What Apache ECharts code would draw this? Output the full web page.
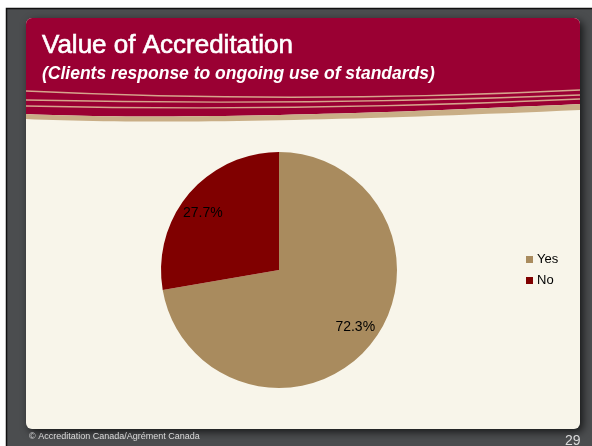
<!DOCTYPE html>
<html><head><meta charset="utf-8">
<script src="https://cdn.jsdelivr.net/npm/echarts@6/dist/echarts.min.js"></script>
<style>html,body{margin:0;padding:0;background:#fff}#c{width:592px;height:446px}</style>
</head><body><div id="c"></div><script>
// ---- data ----
const categories = ['Yes', 'No'];
const values = [72.3, 27.7];
const sliceColors = ['#A98B5E', '#800000'];
const titleText = 'Value of Accreditation';
const subtitleText = '(Clients response to ongoing use of standards)';
const footerText = '\u00A9 Accreditation Canada/Agr\u00E9ment Canada';
const pageNumber = '29';

// ---- decoration helpers ----
function quad(p0, c, p1, n) {
  const pts = [];
  for (let i = 0; i <= n; i++) {
    const t = i / n, a = (1 - t) * (1 - t), b = 2 * (1 - t) * t, d = t * t;
    pts.push([a * p0[0] + b * c[0] + d * p1[0], a * p0[1] + b * c[1] + d * p1[1]]);
  }
  return pts;
}
const bandTop = quad([26, 114], [200, 122], [580, 104], 40);
const bandBot = quad([26, 119], [200, 127], [580, 110], 40);
const maroonFill = [[26, 100]].concat(bandTop).concat([[580, 100]]);
const bandFill = bandTop.concat(bandBot.slice().reverse());
const FONT = '"Liberation Sans", Arial, sans-serif';

const chart = echarts.init(document.getElementById('c'));
const option = {
  animation: false,
  backgroundColor: '#ffffff',
  graphic: {
    elements: [
      { type: 'rect', z: -10, shape: { x: 6.5, y: 8.5, width: 600, height: 450 },
        style: { fill: '#4B4D4F', stroke: '#111', lineWidth: 1.5 } },
      { type: 'rect', z: -9, shape: { x: 26, y: 18, width: 554, height: 411, r: 6 },
        style: { fill: '#F8F5EA', shadowBlur: 8, shadowOffsetX: 3, shadowOffsetY: 3, shadowColor: 'rgba(0,0,0,0.7)' } },
      { type: 'rect', z: -8, shape: { x: 26, y: 18, width: 554, height: 84, r: [6, 6, 0, 0] },
        style: { fill: '#9A0033' } },
      { type: 'polygon', z: -8, shape: { points: maroonFill }, style: { fill: '#9A0033' } },
      { type: 'polygon', z: -7, shape: { points: bandFill }, style: { fill: '#C9AE86' } },
      { type: 'bezierCurve', z: -6, shape: { x1: 26, y1: 91, cpx1: 300, cpy1: 104, x2: 580, y2: 90 },
        style: { stroke: '#D6A48C', lineWidth: 1.4, fill: null } },
      { type: 'bezierCurve', z: -6, shape: { x1: 26, y1: 100, cpx1: 300, cpy1: 106, x2: 580, y2: 95 },
        style: { stroke: '#D6A48C', lineWidth: 1.4, fill: null } },
      { type: 'bezierCurve', z: -6, shape: { x1: 26, y1: 106, cpx1: 300, cpy1: 112, x2: 580, y2: 99 },
        style: { stroke: '#D6A48C', lineWidth: 1.4, fill: null } },
      { type: 'text', z: 5, left: 29, top: 432,
        style: { text: footerText, fill: '#DADADA', font: '9px ' + FONT } },
      { type: 'text', z: 5, left: 565, top: 434,
        style: { text: pageNumber, fill: '#DADADA', font: '14px ' + FONT } }
    ]
  },
  title: [
    { text: titleText, left: 42, top: 33, padding: 0,
      textStyle: { color: '#fff', fontSize: 26, fontWeight: 'normal', fontFamily: FONT,
        textBorderColor: '#fff', textBorderWidth: 0.6 } },
    { text: subtitleText, left: 42, top: 65, padding: 0,
      textStyle: { color: '#fff', fontSize: 17.5, fontWeight: 'bold', fontStyle: 'italic', fontFamily: FONT } }
  ],
  legend: {
    orient: 'vertical', left: 526, top: 253, padding: 0,
    itemWidth: 7, itemHeight: 7, itemGap: 8, icon: 'rect',
    data: categories.map((c, i) => ({ name: c, itemStyle: { color: sliceColors[i] } })),
    textStyle: { color: '#000', fontSize: 13, fontFamily: FONT, padding: [0, 0, 0, -1] }
  },
  series: [
    {
      type: 'pie', center: [279, 270], radius: 118, startAngle: 90, clockwise: true,
      silent: true, label: { show: false }, labelLine: { show: false },
      data: categories.map((c, i) => ({ name: c, value: values[i], itemStyle: { color: sliceColors[i] } }))
    },
    {
      // invisible ring that only carries the percentage labels
      type: 'pie', center: [279, 270], radius: [85, 99], startAngle: 93.5, clockwise: true,
      silent: true, legendHoverLink: false,
      itemStyle: { color: 'rgba(0,0,0,0)' },
      label: { show: true, position: 'inside', color: '#000', fontSize: 14, fontFamily: FONT,
        formatter: p => p.value.toFixed(1) + '%' },
      labelLine: { show: false },
      data: categories.map((c, i) => ({ name: c, value: values[i] }))
    }
  ]
};
chart.setOption(option);
</script></body></html>
